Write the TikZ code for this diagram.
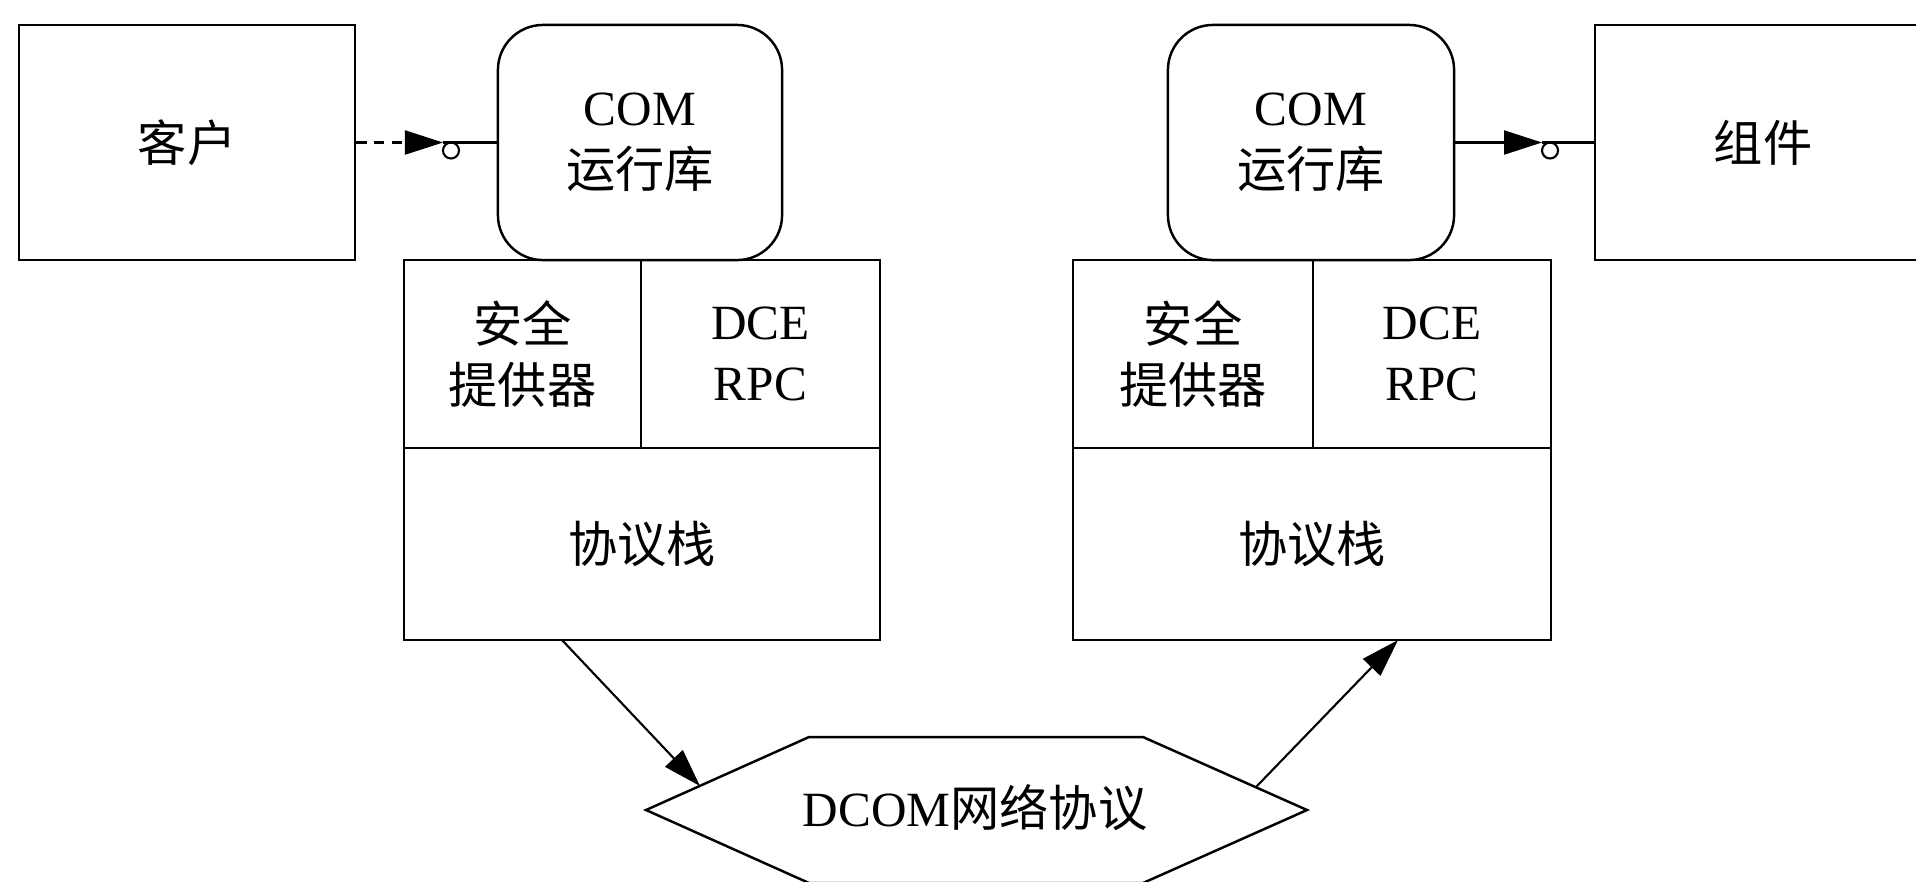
\documentclass[tikz,border=0pt]{standalone}
\usepackage{fontspec}
\setmainfont{Liberation Serif}
\newfontfamily\cjk{Noto Sans CJK SC}
\usetikzlibrary{arrows.meta}

\begin{document}
\begin{tikzpicture}[x=0.01cm,y=-0.01cm,
  font=\fontsize{14}{17.5}\selectfont,
  block/.style={draw,line width=0.7pt,inner sep=0pt,align=center,minimum height=2.35cm},
  runtime/.style={block,rounded corners=0.45cm},
  cell/.style={draw,line width=0.7pt,inner sep=0pt,align=center},
  lolly/.style={draw,circle,line width=0.6pt,inner sep=0pt,minimum size=0.16cm},
  arr/.style={line width=0.6pt,-{Triangle[length=0.38cm,width=0.24cm]}},
  wire/.style={line width=0.6pt}
]
\useasboundingbox (0,0) rectangle (1916,881);
\clip (0,0) rectangle (1916,881);

% client side
\node[block,minimum width=3.36cm] (client) at (187,142.5) {\cjk 客户};
\node[runtime,minimum width=2.84cm] (rtL) at (640,142.5) {COM\\\cjk 运行库};
\node[cell,minimum width=2.37cm,minimum height=1.88cm] (secL) at (522.5,354) {\cjk 安全\\\cjk 提供器};
\node[cell,minimum width=2.39cm,minimum height=1.88cm] (rpcL) at (760.5,354) {DCE\\RPC};
\node[cell,minimum width=4.76cm,minimum height=1.92cm] (protoL) at (642,544) {\cjk 协议栈};

% server side
\node[runtime,minimum width=2.86cm] (rtR) at (1311,142.5) {COM\\\cjk 运行库};
\node[block,minimum width=3.36cm] (comp) at (1763,142.5) {\cjk 组件};
\node[cell,minimum width=2.40cm,minimum height=1.88cm] (secR) at (1193,354) {\cjk 安全\\\cjk 提供器};
\node[cell,minimum width=2.38cm,minimum height=1.88cm] (rpcR) at (1432,354) {DCE\\RPC};
\node[cell,minimum width=4.78cm,minimum height=1.92cm] (protoR) at (1312,544) {\cjk 协议栈};

% network protocol hexagon
\draw[line width=0.7pt] (646,810) -- (809,737) -- (1143,737) -- (1307,810)
  -- (1143,883) -- (809,883) -- cycle;
\node (net) at (975,808) {DCOM\cjk 网络协议};

% interface connectors
\coordinate (tipL) at (443,142.5);
\node[lolly] (popL) at (451,150.5) {};
\draw[arr,dash pattern=on 3pt off 2pt] (client.east) -- (tipL);
\draw[wire] (tipL) -- (rtL.west);

\coordinate (tipR) at (1542,142.5);
\node[lolly] (popR) at (1550,150.5) {};
\draw[arr] (rtR.east) -- (tipR);
\draw[wire] (tipR) -- (comp.west);

% protocol stack to network and back
\coordinate (outL) at (562,640);
\coordinate (hexIn) at (700,786);
\coordinate (hexOut) at (1256,787);
\coordinate (inR) at (1398,640);
\draw[arr] (outL) -- (hexIn);
\draw[arr] (hexOut) -- (inR);
\end{tikzpicture}
\end{document}
